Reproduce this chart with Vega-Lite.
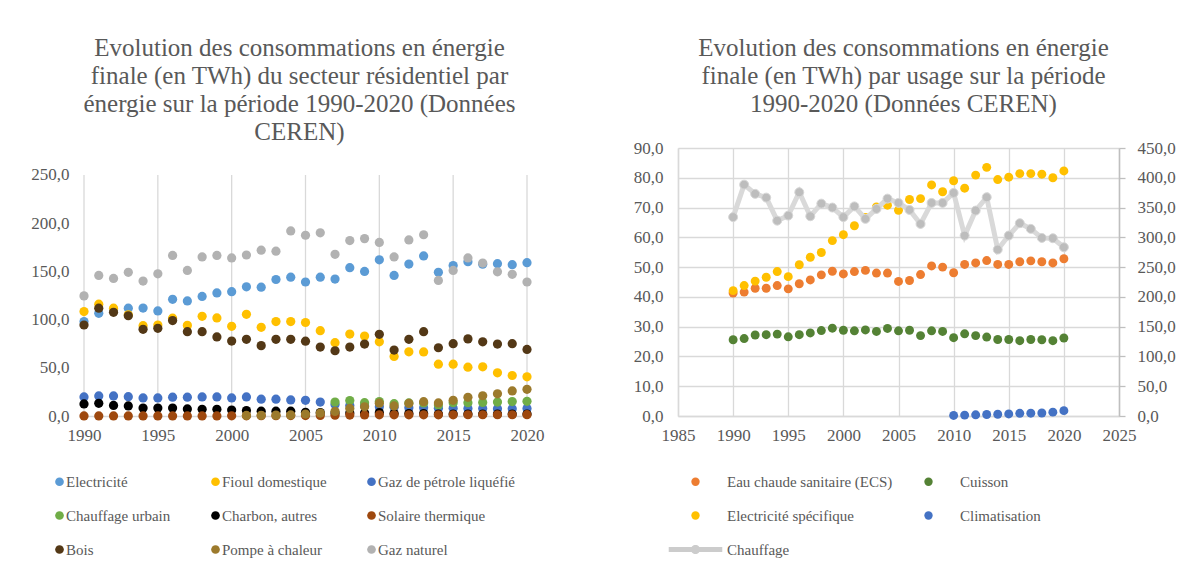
{
  "$schema": "https://vega.github.io/schema/vega-lite/v6.json",
  "background": "white",
  "padding": {"left": 30, "top": 36, "right": 0, "bottom": 0},
  "spacing": 89,
  "datasets": {
    "grille": [{"annee": 1990}, {"annee": 1995}, {"annee": 2000}, {"annee": 2005}, {"annee": 2010}, {"annee": 2015}, {"annee": 2020}],
    "energie": [
      {"annee": 1990, "energie": "Electricité", "valeur": 98}, {"annee": 1991, "energie": "Electricité", "valeur": 106.5}, {"annee": 1992, "energie": "Electricité", "valeur": 110}, {"annee": 1993, "energie": "Electricité", "valeur": 111.8}, {"annee": 1994, "energie": "Electricité", "valeur": 112}, {"annee": 1995, "energie": "Electricité", "valeur": 109}, {"annee": 1996, "energie": "Electricité", "valeur": 121}, {"annee": 1997, "energie": "Electricité", "valeur": 119.4}, {"annee": 1998, "energie": "Electricité", "valeur": 124}, {"annee": 1999, "energie": "Electricité", "valeur": 127.7}, {"annee": 2000, "energie": "Electricité", "valeur": 129}, {"annee": 2001, "energie": "Electricité", "valeur": 134}, {"annee": 2002, "energie": "Electricité", "valeur": 133.6}, {"annee": 2003, "energie": "Electricité", "valeur": 141.6}, {"annee": 2004, "energie": "Electricité", "valeur": 144}, {"annee": 2005, "energie": "Electricité", "valeur": 139}, {"annee": 2006, "energie": "Electricité", "valeur": 144}, {"annee": 2007, "energie": "Electricité", "valeur": 142}, {"annee": 2008, "energie": "Electricité", "valeur": 153.8}, {"annee": 2009, "energie": "Electricité", "valeur": 150}, {"annee": 2010, "energie": "Electricité", "valeur": 162}, {"annee": 2011, "energie": "Electricité", "valeur": 145.8}, {"annee": 2012, "energie": "Electricité", "valeur": 157.6}, {"annee": 2013, "energie": "Electricité", "valeur": 166}, {"annee": 2014, "energie": "Electricité", "valeur": 149}, {"annee": 2015, "energie": "Electricité", "valeur": 156}, {"annee": 2016, "energie": "Electricité", "valeur": 160}, {"annee": 2017, "energie": "Electricité", "valeur": 157.5}, {"annee": 2018, "energie": "Electricité", "valeur": 158}, {"annee": 2019, "energie": "Electricité", "valeur": 157}, {"annee": 2020, "energie": "Electricité", "valeur": 159},
      {"annee": 1990, "energie": "Fioul domestique", "valeur": 108.3}, {"annee": 1991, "energie": "Fioul domestique", "valeur": 116}, {"annee": 1992, "energie": "Fioul domestique", "valeur": 111.8}, {"annee": 1993, "energie": "Fioul domestique", "valeur": 105}, {"annee": 1994, "energie": "Fioul domestique", "valeur": 93.7}, {"annee": 1995, "energie": "Fioul domestique", "valeur": 94.4}, {"annee": 1996, "energie": "Fioul domestique", "valeur": 101.5}, {"annee": 1997, "energie": "Fioul domestique", "valeur": 94}, {"annee": 1998, "energie": "Fioul domestique", "valeur": 103.4}, {"annee": 1999, "energie": "Fioul domestique", "valeur": 101.7}, {"annee": 2000, "energie": "Fioul domestique", "valeur": 93}, {"annee": 2001, "energie": "Fioul domestique", "valeur": 105.5}, {"annee": 2002, "energie": "Fioul domestique", "valeur": 92}, {"annee": 2003, "energie": "Fioul domestique", "valeur": 98}, {"annee": 2004, "energie": "Fioul domestique", "valeur": 98}, {"annee": 2005, "energie": "Fioul domestique", "valeur": 97}, {"annee": 2006, "energie": "Fioul domestique", "valeur": 88.5}, {"annee": 2007, "energie": "Fioul domestique", "valeur": 76}, {"annee": 2008, "energie": "Fioul domestique", "valeur": 85}, {"annee": 2009, "energie": "Fioul domestique", "valeur": 83}, {"annee": 2010, "energie": "Fioul domestique", "valeur": 77}, {"annee": 2011, "energie": "Fioul domestique", "valeur": 61.8}, {"annee": 2012, "energie": "Fioul domestique", "valeur": 66.6}, {"annee": 2013, "energie": "Fioul domestique", "valeur": 66.5}, {"annee": 2014, "energie": "Fioul domestique", "valeur": 53.8}, {"annee": 2015, "energie": "Fioul domestique", "valeur": 53.8}, {"annee": 2016, "energie": "Fioul domestique", "valeur": 50.6}, {"annee": 2017, "energie": "Fioul domestique", "valeur": 51}, {"annee": 2018, "energie": "Fioul domestique", "valeur": 44.8}, {"annee": 2019, "energie": "Fioul domestique", "valeur": 42}, {"annee": 2020, "energie": "Fioul domestique", "valeur": 40.6},
      {"annee": 1990, "energie": "Gaz de pétrole liquéfié", "valeur": 19.8}, {"annee": 1991, "energie": "Gaz de pétrole liquéfié", "valeur": 20.8}, {"annee": 1992, "energie": "Gaz de pétrole liquéfié", "valeur": 20.8}, {"annee": 1993, "energie": "Gaz de pétrole liquéfié", "valeur": 20}, {"annee": 1994, "energie": "Gaz de pétrole liquéfié", "valeur": 18.7}, {"annee": 1995, "energie": "Gaz de pétrole liquéfié", "valeur": 18.7}, {"annee": 1996, "energie": "Gaz de pétrole liquéfié", "valeur": 19.5}, {"annee": 1997, "energie": "Gaz de pétrole liquéfié", "valeur": 19.5}, {"annee": 1998, "energie": "Gaz de pétrole liquéfié", "valeur": 19.8}, {"annee": 1999, "energie": "Gaz de pétrole liquéfié", "valeur": 19.8}, {"annee": 2000, "energie": "Gaz de pétrole liquéfié", "valeur": 18.7}, {"annee": 2001, "energie": "Gaz de pétrole liquéfié", "valeur": 19.8}, {"annee": 2002, "energie": "Gaz de pétrole liquéfié", "valeur": 17.4}, {"annee": 2003, "energie": "Gaz de pétrole liquéfié", "valeur": 17.4}, {"annee": 2004, "energie": "Gaz de pétrole liquéfié", "valeur": 16.7}, {"annee": 2005, "energie": "Gaz de pétrole liquéfié", "valeur": 16.3}, {"annee": 2006, "energie": "Gaz de pétrole liquéfié", "valeur": 14.5}, {"annee": 2007, "energie": "Gaz de pétrole liquéfié", "valeur": 12}, {"annee": 2008, "energie": "Gaz de pétrole liquéfié", "valeur": 11}, {"annee": 2009, "energie": "Gaz de pétrole liquéfié", "valeur": 10.5}, {"annee": 2010, "energie": "Gaz de pétrole liquéfié", "valeur": 9.5}, {"annee": 2011, "energie": "Gaz de pétrole liquéfié", "valeur": 9}, {"annee": 2012, "energie": "Gaz de pétrole liquéfié", "valeur": 8.5}, {"annee": 2013, "energie": "Gaz de pétrole liquéfié", "valeur": 8.5}, {"annee": 2014, "energie": "Gaz de pétrole liquéfié", "valeur": 8}, {"annee": 2015, "energie": "Gaz de pétrole liquéfié", "valeur": 8}, {"annee": 2016, "energie": "Gaz de pétrole liquéfié", "valeur": 7.8}, {"annee": 2017, "energie": "Gaz de pétrole liquéfié", "valeur": 7.8}, {"annee": 2018, "energie": "Gaz de pétrole liquéfié", "valeur": 7.6}, {"annee": 2019, "energie": "Gaz de pétrole liquéfié", "valeur": 7.5}, {"annee": 2020, "energie": "Gaz de pétrole liquéfié", "valeur": 7.8},
      {"annee": 2007, "energie": "Chauffage urbain", "valeur": 14.5}, {"annee": 2008, "energie": "Chauffage urbain", "valeur": 16}, {"annee": 2009, "energie": "Chauffage urbain", "valeur": 13.8}, {"annee": 2010, "energie": "Chauffage urbain", "valeur": 15}, {"annee": 2011, "energie": "Chauffage urbain", "valeur": 12.8}, {"annee": 2012, "energie": "Chauffage urbain", "valeur": 13.6}, {"annee": 2013, "energie": "Chauffage urbain", "valeur": 13.5}, {"annee": 2014, "energie": "Chauffage urbain", "valeur": 11.5}, {"annee": 2015, "energie": "Chauffage urbain", "valeur": 13.8}, {"annee": 2016, "energie": "Chauffage urbain", "valeur": 13.8}, {"annee": 2017, "energie": "Chauffage urbain", "valeur": 14}, {"annee": 2018, "energie": "Chauffage urbain", "valeur": 14.5}, {"annee": 2019, "energie": "Chauffage urbain", "valeur": 15}, {"annee": 2020, "energie": "Chauffage urbain", "valeur": 15.2},
      {"annee": 1990, "energie": "Charbon, autres", "valeur": 12.5}, {"annee": 1991, "energie": "Charbon, autres", "valeur": 13.2}, {"annee": 1992, "energie": "Charbon, autres", "valeur": 11}, {"annee": 1993, "energie": "Charbon, autres", "valeur": 10.4}, {"annee": 1994, "energie": "Charbon, autres", "valeur": 8.3}, {"annee": 1995, "energie": "Charbon, autres", "valeur": 8.3}, {"annee": 1996, "energie": "Charbon, autres", "valeur": 8.3}, {"annee": 1997, "energie": "Charbon, autres", "valeur": 7.3}, {"annee": 1998, "energie": "Charbon, autres", "valeur": 7}, {"annee": 1999, "energie": "Charbon, autres", "valeur": 7}, {"annee": 2000, "energie": "Charbon, autres", "valeur": 6.2}, {"annee": 2001, "energie": "Charbon, autres", "valeur": 5.6}, {"annee": 2002, "energie": "Charbon, autres", "valeur": 5}, {"annee": 2003, "energie": "Charbon, autres", "valeur": 5}, {"annee": 2004, "energie": "Charbon, autres", "valeur": 5}, {"annee": 2005, "energie": "Charbon, autres", "valeur": 3.8}, {"annee": 2006, "energie": "Charbon, autres", "valeur": 3.5}, {"annee": 2007, "energie": "Charbon, autres", "valeur": 3.2}, {"annee": 2008, "energie": "Charbon, autres", "valeur": 3}, {"annee": 2009, "energie": "Charbon, autres", "valeur": 3}, {"annee": 2010, "energie": "Charbon, autres", "valeur": 3.5}, {"annee": 2011, "energie": "Charbon, autres", "valeur": 2.5}, {"annee": 2012, "energie": "Charbon, autres", "valeur": 2.5}, {"annee": 2013, "energie": "Charbon, autres", "valeur": 2.5}, {"annee": 2014, "energie": "Charbon, autres", "valeur": 2}, {"annee": 2015, "energie": "Charbon, autres", "valeur": 2}, {"annee": 2016, "energie": "Charbon, autres", "valeur": 2}, {"annee": 2017, "energie": "Charbon, autres", "valeur": 2}, {"annee": 2018, "energie": "Charbon, autres", "valeur": 2}, {"annee": 2019, "energie": "Charbon, autres", "valeur": 2}, {"annee": 2020, "energie": "Charbon, autres", "valeur": 2},
      {"annee": 1990, "energie": "Solaire thermique", "valeur": 0.1}, {"annee": 1991, "energie": "Solaire thermique", "valeur": 0.1}, {"annee": 1992, "energie": "Solaire thermique", "valeur": 0.1}, {"annee": 1993, "energie": "Solaire thermique", "valeur": 0.1}, {"annee": 1994, "energie": "Solaire thermique", "valeur": 0.1}, {"annee": 1995, "energie": "Solaire thermique", "valeur": 0.1}, {"annee": 1996, "energie": "Solaire thermique", "valeur": 0.1}, {"annee": 1997, "energie": "Solaire thermique", "valeur": 0.1}, {"annee": 1998, "energie": "Solaire thermique", "valeur": 0.1}, {"annee": 1999, "energie": "Solaire thermique", "valeur": 0.1}, {"annee": 2000, "energie": "Solaire thermique", "valeur": 0.2}, {"annee": 2001, "energie": "Solaire thermique", "valeur": 0.2}, {"annee": 2002, "energie": "Solaire thermique", "valeur": 0.3}, {"annee": 2003, "energie": "Solaire thermique", "valeur": 0.3}, {"annee": 2004, "energie": "Solaire thermique", "valeur": 0.4}, {"annee": 2005, "energie": "Solaire thermique", "valeur": 0.5}, {"annee": 2006, "energie": "Solaire thermique", "valeur": 0.6}, {"annee": 2007, "energie": "Solaire thermique", "valeur": 0.8}, {"annee": 2008, "energie": "Solaire thermique", "valeur": 1}, {"annee": 2009, "energie": "Solaire thermique", "valeur": 1.1}, {"annee": 2010, "energie": "Solaire thermique", "valeur": 1.2}, {"annee": 2011, "energie": "Solaire thermique", "valeur": 1.2}, {"annee": 2012, "energie": "Solaire thermique", "valeur": 1.2}, {"annee": 2013, "energie": "Solaire thermique", "valeur": 1.2}, {"annee": 2014, "energie": "Solaire thermique", "valeur": 1.2}, {"annee": 2015, "energie": "Solaire thermique", "valeur": 1.2}, {"annee": 2016, "energie": "Solaire thermique", "valeur": 1.3}, {"annee": 2017, "energie": "Solaire thermique", "valeur": 1.3}, {"annee": 2018, "energie": "Solaire thermique", "valeur": 1.3}, {"annee": 2019, "energie": "Solaire thermique", "valeur": 1.3}, {"annee": 2020, "energie": "Solaire thermique", "valeur": 1.4},
      {"annee": 1990, "energie": "Bois", "valeur": 94.4}, {"annee": 1991, "energie": "Bois", "valeur": 111.8}, {"annee": 1992, "energie": "Bois", "valeur": 107.6}, {"annee": 1993, "energie": "Bois", "valeur": 104}, {"annee": 1994, "energie": "Bois", "valeur": 89.9}, {"annee": 1995, "energie": "Bois", "valeur": 91}, {"annee": 1996, "energie": "Bois", "valeur": 99}, {"annee": 1997, "energie": "Bois", "valeur": 87.5}, {"annee": 1998, "energie": "Bois", "valeur": 87.5}, {"annee": 1999, "energie": "Bois", "valeur": 82}, {"annee": 2000, "energie": "Bois", "valeur": 77.7}, {"annee": 2001, "energie": "Bois", "valeur": 79.5}, {"annee": 2002, "energie": "Bois", "valeur": 73}, {"annee": 2003, "energie": "Bois", "valeur": 79.5}, {"annee": 2004, "energie": "Bois", "valeur": 79.5}, {"annee": 2005, "energie": "Bois", "valeur": 77.6}, {"annee": 2006, "energie": "Bois", "valeur": 71.5}, {"annee": 2007, "energie": "Bois", "valeur": 67.7}, {"annee": 2008, "energie": "Bois", "valeur": 71.5}, {"annee": 2009, "energie": "Bois", "valeur": 74.6}, {"annee": 2010, "energie": "Bois", "valeur": 84.7}, {"annee": 2011, "energie": "Bois", "valeur": 68.4}, {"annee": 2012, "energie": "Bois", "valeur": 79.5}, {"annee": 2013, "energie": "Bois", "valeur": 87.5}, {"annee": 2014, "energie": "Bois", "valeur": 70.8}, {"annee": 2015, "energie": "Bois", "valeur": 75}, {"annee": 2016, "energie": "Bois", "valeur": 80}, {"annee": 2017, "energie": "Bois", "valeur": 77}, {"annee": 2018, "energie": "Bois", "valeur": 74.6}, {"annee": 2019, "energie": "Bois", "valeur": 75}, {"annee": 2020, "energie": "Bois", "valeur": 69},
      {"annee": 2001, "energie": "Pompe à chaleur", "valeur": 0.6}, {"annee": 2002, "energie": "Pompe à chaleur", "valeur": 0.7}, {"annee": 2003, "energie": "Pompe à chaleur", "valeur": 0.9}, {"annee": 2004, "energie": "Pompe à chaleur", "valeur": 1.1}, {"annee": 2005, "energie": "Pompe à chaleur", "valeur": 2}, {"annee": 2006, "energie": "Pompe à chaleur", "valeur": 3}, {"annee": 2007, "energie": "Pompe à chaleur", "valeur": 4.8}, {"annee": 2008, "energie": "Pompe à chaleur", "valeur": 7.8}, {"annee": 2009, "energie": "Pompe à chaleur", "valeur": 9.5}, {"annee": 2010, "energie": "Pompe à chaleur", "valeur": 13.3}, {"annee": 2011, "energie": "Pompe à chaleur", "valeur": 10.4}, {"annee": 2012, "energie": "Pompe à chaleur", "valeur": 13}, {"annee": 2013, "energie": "Pompe à chaleur", "valeur": 14.8}, {"annee": 2014, "energie": "Pompe à chaleur", "valeur": 13.6}, {"annee": 2015, "energie": "Pompe à chaleur", "valeur": 16.3}, {"annee": 2016, "energie": "Pompe à chaleur", "valeur": 19.4}, {"annee": 2017, "energie": "Pompe à chaleur", "valeur": 21}, {"annee": 2018, "energie": "Pompe à chaleur", "valeur": 23}, {"annee": 2019, "energie": "Pompe à chaleur", "valeur": 26}, {"annee": 2020, "energie": "Pompe à chaleur", "valeur": 27.7},
      {"annee": 1990, "energie": "Gaz naturel", "valeur": 124.6}, {"annee": 1991, "energie": "Gaz naturel", "valeur": 145.8}, {"annee": 1992, "energie": "Gaz naturel", "valeur": 142.7}, {"annee": 1993, "energie": "Gaz naturel", "valeur": 149}, {"annee": 1994, "energie": "Gaz naturel", "valeur": 140}, {"annee": 1995, "energie": "Gaz naturel", "valeur": 147.5}, {"annee": 1996, "energie": "Gaz naturel", "valeur": 166.6}, {"annee": 1997, "energie": "Gaz naturel", "valeur": 151}, {"annee": 1998, "energie": "Gaz naturel", "valeur": 165}, {"annee": 1999, "energie": "Gaz naturel", "valeur": 166.6}, {"annee": 2000, "energie": "Gaz naturel", "valeur": 164}, {"annee": 2001, "energie": "Gaz naturel", "valeur": 167}, {"annee": 2002, "energie": "Gaz naturel", "valeur": 172}, {"annee": 2003, "energie": "Gaz naturel", "valeur": 171}, {"annee": 2004, "energie": "Gaz naturel", "valeur": 192}, {"annee": 2005, "energie": "Gaz naturel", "valeur": 187.5}, {"annee": 2006, "energie": "Gaz naturel", "valeur": 190}, {"annee": 2007, "energie": "Gaz naturel", "valeur": 167.7}, {"annee": 2008, "energie": "Gaz naturel", "valeur": 182}, {"annee": 2009, "energie": "Gaz naturel", "valeur": 184}, {"annee": 2010, "energie": "Gaz naturel", "valeur": 180}, {"annee": 2011, "energie": "Gaz naturel", "valeur": 165}, {"annee": 2012, "energie": "Gaz naturel", "valeur": 182.6}, {"annee": 2013, "energie": "Gaz naturel", "valeur": 188}, {"annee": 2014, "energie": "Gaz naturel", "valeur": 140.6}, {"annee": 2015, "energie": "Gaz naturel", "valeur": 151}, {"annee": 2016, "energie": "Gaz naturel", "valeur": 164}, {"annee": 2017, "energie": "Gaz naturel", "valeur": 158.6}, {"annee": 2018, "energie": "Gaz naturel", "valeur": 149.6}, {"annee": 2019, "energie": "Gaz naturel", "valeur": 147}, {"annee": 2020, "energie": "Gaz naturel", "valeur": 139}
    ],
    "usage": [
      {"annee": 1990, "usage": "Eau chaude sanitaire (ECS)", "valeur": 41.3}, {"annee": 1991, "usage": "Eau chaude sanitaire (ECS)", "valeur": 41.6}, {"annee": 1992, "usage": "Eau chaude sanitaire (ECS)", "valeur": 42.9}, {"annee": 1993, "usage": "Eau chaude sanitaire (ECS)", "valeur": 42.9}, {"annee": 1994, "usage": "Eau chaude sanitaire (ECS)", "valeur": 43.8}, {"annee": 1995, "usage": "Eau chaude sanitaire (ECS)", "valeur": 42.7}, {"annee": 1996, "usage": "Eau chaude sanitaire (ECS)", "valeur": 44.4}, {"annee": 1997, "usage": "Eau chaude sanitaire (ECS)", "valeur": 45.7}, {"annee": 1998, "usage": "Eau chaude sanitaire (ECS)", "valeur": 47.4}, {"annee": 1999, "usage": "Eau chaude sanitaire (ECS)", "valeur": 48.6}, {"annee": 2000, "usage": "Eau chaude sanitaire (ECS)", "valeur": 47.7}, {"annee": 2001, "usage": "Eau chaude sanitaire (ECS)", "valeur": 48.5}, {"annee": 2002, "usage": "Eau chaude sanitaire (ECS)", "valeur": 48.9}, {"annee": 2003, "usage": "Eau chaude sanitaire (ECS)", "valeur": 48}, {"annee": 2004, "usage": "Eau chaude sanitaire (ECS)", "valeur": 48}, {"annee": 2005, "usage": "Eau chaude sanitaire (ECS)", "valeur": 45.2}, {"annee": 2006, "usage": "Eau chaude sanitaire (ECS)", "valeur": 45.5}, {"annee": 2007, "usage": "Eau chaude sanitaire (ECS)", "valeur": 47.5}, {"annee": 2008, "usage": "Eau chaude sanitaire (ECS)", "valeur": 50.4}, {"annee": 2009, "usage": "Eau chaude sanitaire (ECS)", "valeur": 50}, {"annee": 2010, "usage": "Eau chaude sanitaire (ECS)", "valeur": 48.1}, {"annee": 2011, "usage": "Eau chaude sanitaire (ECS)", "valeur": 50.9}, {"annee": 2012, "usage": "Eau chaude sanitaire (ECS)", "valeur": 51.4}, {"annee": 2013, "usage": "Eau chaude sanitaire (ECS)", "valeur": 52.2}, {"annee": 2014, "usage": "Eau chaude sanitaire (ECS)", "valeur": 50.9}, {"annee": 2015, "usage": "Eau chaude sanitaire (ECS)", "valeur": 50.9}, {"annee": 2016, "usage": "Eau chaude sanitaire (ECS)", "valeur": 51.8}, {"annee": 2017, "usage": "Eau chaude sanitaire (ECS)", "valeur": 52.1}, {"annee": 2018, "usage": "Eau chaude sanitaire (ECS)", "valeur": 51.8}, {"annee": 2019, "usage": "Eau chaude sanitaire (ECS)", "valeur": 51.4}, {"annee": 2020, "usage": "Eau chaude sanitaire (ECS)", "valeur": 52.8},
      {"annee": 1990, "usage": "Cuisson", "valeur": 25.6}, {"annee": 1991, "usage": "Cuisson", "valeur": 26}, {"annee": 1992, "usage": "Cuisson", "valeur": 27.2}, {"annee": 1993, "usage": "Cuisson", "valeur": 27.3}, {"annee": 1994, "usage": "Cuisson", "valeur": 27.5}, {"annee": 1995, "usage": "Cuisson", "valeur": 26.6}, {"annee": 1996, "usage": "Cuisson", "valeur": 27.3}, {"annee": 1997, "usage": "Cuisson", "valeur": 27.9}, {"annee": 1998, "usage": "Cuisson", "valeur": 28.7}, {"annee": 1999, "usage": "Cuisson", "valeur": 29.5}, {"annee": 2000, "usage": "Cuisson", "valeur": 28.8}, {"annee": 2001, "usage": "Cuisson", "valeur": 28.6}, {"annee": 2002, "usage": "Cuisson", "valeur": 28.9}, {"annee": 2003, "usage": "Cuisson", "valeur": 28.4}, {"annee": 2004, "usage": "Cuisson", "valeur": 29.4}, {"annee": 2005, "usage": "Cuisson", "valeur": 28.6}, {"annee": 2006, "usage": "Cuisson", "valeur": 28.8}, {"annee": 2007, "usage": "Cuisson", "valeur": 27}, {"annee": 2008, "usage": "Cuisson", "valeur": 28.6}, {"annee": 2009, "usage": "Cuisson", "valeur": 28.4}, {"annee": 2010, "usage": "Cuisson", "valeur": 26.3}, {"annee": 2011, "usage": "Cuisson", "valeur": 27.6}, {"annee": 2012, "usage": "Cuisson", "valeur": 27}, {"annee": 2013, "usage": "Cuisson", "valeur": 26.5}, {"annee": 2014, "usage": "Cuisson", "valeur": 25.7}, {"annee": 2015, "usage": "Cuisson", "valeur": 25.7}, {"annee": 2016, "usage": "Cuisson", "valeur": 25.3}, {"annee": 2017, "usage": "Cuisson", "valeur": 25.7}, {"annee": 2018, "usage": "Cuisson", "valeur": 25.6}, {"annee": 2019, "usage": "Cuisson", "valeur": 25.3}, {"annee": 2020, "usage": "Cuisson", "valeur": 26.2},
      {"annee": 1990, "usage": "Electricité spécifique", "valeur": 42.1}, {"annee": 1991, "usage": "Electricité spécifique", "valeur": 43.8}, {"annee": 1992, "usage": "Electricité spécifique", "valeur": 45.3}, {"annee": 1993, "usage": "Electricité spécifique", "valeur": 46.6}, {"annee": 1994, "usage": "Electricité spécifique", "valeur": 48.5}, {"annee": 1995, "usage": "Electricité spécifique", "valeur": 46.8}, {"annee": 1996, "usage": "Electricité spécifique", "valeur": 50.8}, {"annee": 1997, "usage": "Electricité spécifique", "valeur": 53.3}, {"annee": 1998, "usage": "Electricité spécifique", "valeur": 54.9}, {"annee": 1999, "usage": "Electricité spécifique", "valeur": 58.9}, {"annee": 2000, "usage": "Electricité spécifique", "valeur": 60.9}, {"annee": 2001, "usage": "Electricité spécifique", "valeur": 63.9}, {"annee": 2002, "usage": "Electricité spécifique", "valeur": 66.7}, {"annee": 2003, "usage": "Electricité spécifique", "valeur": 70.2}, {"annee": 2004, "usage": "Electricité spécifique", "valeur": 70.8}, {"annee": 2005, "usage": "Electricité spécifique", "valeur": 69.1}, {"annee": 2006, "usage": "Electricité spécifique", "valeur": 72.7}, {"annee": 2007, "usage": "Electricité spécifique", "valeur": 73}, {"annee": 2008, "usage": "Electricité spécifique", "valeur": 77.6}, {"annee": 2009, "usage": "Electricité spécifique", "valeur": 75.3}, {"annee": 2010, "usage": "Electricité spécifique", "valeur": 79}, {"annee": 2011, "usage": "Electricité spécifique", "valeur": 76.5}, {"annee": 2012, "usage": "Electricité spécifique", "valeur": 80.9}, {"annee": 2013, "usage": "Electricité spécifique", "valeur": 83.5}, {"annee": 2014, "usage": "Electricité spécifique", "valeur": 79.4}, {"annee": 2015, "usage": "Electricité spécifique", "valeur": 80.2}, {"annee": 2016, "usage": "Electricité spécifique", "valeur": 81.4}, {"annee": 2017, "usage": "Electricité spécifique", "valeur": 81.4}, {"annee": 2018, "usage": "Electricité spécifique", "valeur": 81.2}, {"annee": 2019, "usage": "Electricité spécifique", "valeur": 80}, {"annee": 2020, "usage": "Electricité spécifique", "valeur": 82.3},
      {"annee": 2010, "usage": "Climatisation", "valeur": 0.2}, {"annee": 2011, "usage": "Climatisation", "valeur": 0.3}, {"annee": 2012, "usage": "Climatisation", "valeur": 0.4}, {"annee": 2013, "usage": "Climatisation", "valeur": 0.5}, {"annee": 2014, "usage": "Climatisation", "valeur": 0.6}, {"annee": 2015, "usage": "Climatisation", "valeur": 0.7}, {"annee": 2016, "usage": "Climatisation", "valeur": 0.9}, {"annee": 2017, "usage": "Climatisation", "valeur": 0.95}, {"annee": 2018, "usage": "Climatisation", "valeur": 1}, {"annee": 2019, "usage": "Climatisation", "valeur": 1.3}, {"annee": 2020, "usage": "Climatisation", "valeur": 1.8}
    ],
    "chauffage": [
      {"annee": 1990, "valeur": 334}, {"annee": 1991, "valeur": 388.5}, {"annee": 1992, "valeur": 373}, {"annee": 1993, "valeur": 366.7}, {"annee": 1994, "valeur": 328}, {"annee": 1995, "valeur": 336.5}, {"annee": 1996, "valeur": 375.7}, {"annee": 1997, "valeur": 335.4}, {"annee": 1998, "valeur": 356.6}, {"annee": 1999, "valeur": 350}, {"annee": 2000, "valeur": 334}, {"annee": 2001, "valeur": 352}, {"annee": 2002, "valeur": 331}, {"annee": 2003, "valeur": 347.7}, {"annee": 2004, "valeur": 365}, {"annee": 2005, "valeur": 357.8}, {"annee": 2006, "valeur": 346}, {"annee": 2007, "valeur": 322.5}, {"annee": 2008, "valeur": 357.8}, {"annee": 2009, "valeur": 357.8}, {"annee": 2010, "valeur": 374.5}, {"annee": 2011, "valeur": 302.9}, {"annee": 2012, "valeur": 344.9}, {"annee": 2013, "valeur": 367.3}, {"annee": 2014, "valeur": 279.5}, {"annee": 2015, "valeur": 303}, {"annee": 2016, "valeur": 323.7}, {"annee": 2017, "valeur": 314.2}, {"annee": 2018, "valeur": 299}, {"annee": 2019, "valeur": 298.5}, {"annee": 2020, "valeur": 283.4}
    ]
  },
  "hconcat": [
    {
      "width": 443,
      "height": 268,
      "title": {"text": ["Evolution des consommations en énergie", "finale (en TWh) du secteur résidentiel par", "énergie sur la période 1990-2020 (Données", "CEREN)"], "offset": 3, "dx": -6},
      "layer": [
        {
          "data": {"name": "grille"},
          "mark": {"type": "rule", "color": "#d9d9d9", "strokeWidth": 1.3},
          "encoding": {
            "x": {"field": "annee", "type": "quantitative"},
            "y": {"datum": 0},
            "y2": {"datum": 250}
          }
        },
        {
          "data": {"name": "energie"},
          "mark": {"type": "point", "filled": true, "opacity": 1, "size": 85},
          "encoding": {
            "x": {"field": "annee", "type": "quantitative", "scale": {"domain": [1990, 2020], "nice": false, "zero": false},
                  "axis": {"values": [1990, 1995, 2000, 2005, 2010, 2015, 2020], "format": "d", "labelPadding": 11, "labelFlush": false, "grid": false, "labelFont": "Liberation Serif", "labelFontSize": 17, "labelColor": "#595959"}},
            "y": {"field": "valeur", "type": "quantitative", "scale": {"domain": [0, 278], "nice": false},
                  "axis": {"values": [0, 50, 100, 150, 200, 250], "domain": false, "labelExpr": "replace(format(datum.value, '.1f'), '.', ',')", "labelPadding": 15, "labelFont": "Liberation Serif", "labelFontSize": 17, "labelColor": "#595959"}},
            "color": {"field": "energie", "type": "nominal",
                      "scale": {"domain": ["Electricité", "Fioul domestique", "Gaz de pétrole liquéfié", "Chauffage urbain", "Charbon, autres", "Solaire thermique", "Bois", "Pompe à chaleur", "Gaz naturel"],
                                "range": ["#5b9bd5", "#ffc000", "#4472c4", "#70ad47", "#000000", "#9e480e", "#533816", "#9c7a2c", "#b2b2b2"]},
                      "legend": {"orient": "none", "legendX": -32, "legendY": 326, "columns": 3, "direction": "horizontal", "symbolSize": 75, "labelOffset": -1, "columnPadding": 37, "rowPadding": 18, "labelFont": "Liberation Serif", "labelFontSize": 15, "labelColor": "#595959"}}
          }
        }
      ]
    },
    {
      "width": 441,
      "height": 268,
      "title": {"text": ["Evolution des consommations en énergie", "finale (en TWh) par usage sur la période", "1990-2020 (Données CEREN)"], "dx": 5},
      "resolve": {"scale": {"y": "independent"}},
      "layer": [
        {
          "data": {"name": "usage"},
          "mark": {"type": "point", "filled": true, "opacity": 1, "size": 80},
          "encoding": {
            "x": {"field": "annee", "type": "quantitative", "scale": {"domain": [1985, 2025], "nice": false, "zero": false},
                  "axis": {"values": [1985, 1990, 1995, 2000, 2005, 2010, 2015, 2020, 2025], "format": "d", "labelPadding": 11, "labelFlush": false, "labelFont": "Liberation Serif", "labelFontSize": 17, "labelColor": "#595959"}},
            "y": {"field": "valeur", "type": "quantitative", "scale": {"domain": [0, 90], "nice": false},
                  "axis": {"values": [0, 10, 20, 30, 40, 50, 60, 70, 80, 90], "labelExpr": "replace(format(datum.value, '.1f'), '.', ',')", "labelPadding": 15, "labelFont": "Liberation Serif", "labelFontSize": 17, "labelColor": "#595959"}},
            "color": {"field": "usage", "type": "nominal",
                      "scale": {"domain": ["Eau chaude sanitaire (ECS)", "Cuisson", "Electricité spécifique", "Climatisation", "Chauffage"],
                                "range": ["#ed7d31", "#548235", "#ffc000", "#4472c4", "#cccccc"]},
                      "legend": {"orient": "none", "legendX": 10, "legendY": 326, "columns": 2, "direction": "horizontal", "symbolSize": 70, "labelOffset": 24, "columnPadding": 28, "rowPadding": 18, "labelFont": "Liberation Serif", "labelFontSize": 15, "labelColor": "#595959"}},
            "shape": {"field": "usage", "type": "nominal",
                      "scale": {"domain": ["Eau chaude sanitaire (ECS)", "Cuisson", "Electricité spécifique", "Climatisation", "Chauffage"],
                                "range": ["circle", "circle", "circle", "circle", "M-6.4,-0.6H6.4V0.6H-6.4Z M1.1,0A1.1,1.1,0,1,1,-1.1,0A1.1,1.1,0,1,1,1.1,0Z"]}}
          }
        },
        {
          "data": {"name": "chauffage"},
          "encoding": {
            "x": {"field": "annee", "type": "quantitative"},
            "y": {"field": "valeur", "type": "quantitative", "scale": {"domain": [0, 450], "nice": false},
                  "axis": {"orient": "right", "values": [0, 50, 100, 150, 200, 250, 300, 350, 400, 450], "labelExpr": "replace(format(datum.value, '.1f'), '.', ',')", "grid": false, "ticks": true, "tickSize": 6, "tickColor": "#bfbfbf", "tickWidth": 1.3, "domainColor": "#bfbfbf", "labelPadding": 12, "labelFont": "Liberation Serif", "labelFontSize": 17, "labelColor": "#595959"}}
          },
          "layer": [
            {"mark": {"type": "line", "color": "#d9d9d9", "strokeWidth": 5}},
            {"mark": {"type": "point", "filled": true, "opacity": 1, "size": 80, "color": "#bdbdbd", "stroke": "#d6d6d6", "strokeWidth": 1}}
          ]
        }
      ]
    }
  ],
  "resolve": {"scale": {"color": "independent", "shape": "independent", "x": "independent", "y": "independent"}, "legend": {"color": "independent", "shape": "independent"}},
  "config": {
    "font": "Liberation Serif",
    "view": {"stroke": null},
    "title": {"font": "Liberation Serif", "fontSize": 25, "fontWeight": "normal", "color": "#595959", "lineHeight": 28, "anchor": "middle", "frame": "group", "offset": 22},
    "axis": {"labelFont": "Liberation Serif", "labelFontSize": 17, "labelColor": "#595959", "gridColor": "#d9d9d9", "gridWidth": 1.3, "domainColor": "#d9d9d9", "domainWidth": 1.5, "ticks": false, "tickSize": 0, "title": null, "labelOverlap": false},
    "legend": {"title": null, "labelFont": "Liberation Serif", "labelFontSize": 15, "labelColor": "#595959", "padding": 0, "labelLimit": 300}
  }
}
